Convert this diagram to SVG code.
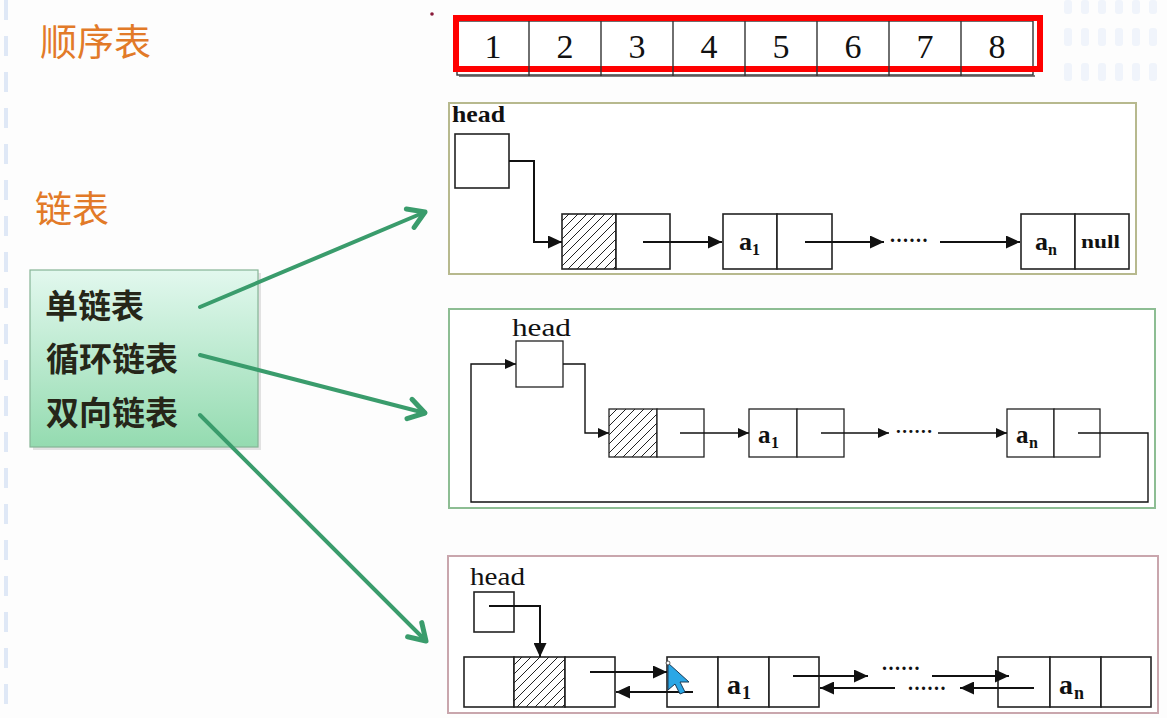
<svg xmlns="http://www.w3.org/2000/svg" width="1167" height="718" viewBox="0 0 1167 718">
<defs>
<style>
.ser{font-family:"Liberation Serif","Times New Roman",serif;fill:#111}
.b{font-weight:bold}
.cell{fill:#fff;stroke:#222;stroke-width:1.6}
.cell2{fill:#fff;stroke:#222;stroke-width:1.3}
.hat{fill:url(#hatch);stroke:#222;stroke-width:1.6}
.hat2{fill:url(#hatch);stroke:#222;stroke-width:1.3}
.ln{fill:none;stroke:#111;stroke-width:2}
.ln2{fill:none;stroke:#111;stroke-width:1.4}
.cjk{font-family:"Noto Sans CJK SC","Noto Sans",sans-serif}
.orange{fill:#e27a28;font-size:37px}
.dark{fill:#262619;font-size:33px;font-weight:bold}
.garrow{fill:none;stroke:#3a9c6c;stroke-width:4;stroke-linecap:round}
.dots{letter-spacing:1.5px}
</style>
<pattern id="hatch" patternUnits="userSpaceOnUse" width="9" height="9">
<rect width="9" height="9" fill="#fff"/>
<path d="M-1,10 L10,-1 M-3,3 L3,-3 M6,12 L12,6" stroke="#222" stroke-width="1"/>
</pattern>
<marker id="ah" markerUnits="userSpaceOnUse" markerWidth="15" markerHeight="13" refX="14" refY="6.5" orient="auto">
<path d="M0,0 L14,6.5 L0,13 z" fill="#111"/>
</marker>
<marker id="ah2" markerUnits="userSpaceOnUse" markerWidth="12" markerHeight="10" refX="11" refY="5" orient="auto">
<path d="M0,0 L11,5 L0,10 z" fill="#111"/>
</marker>
<marker id="gah" markerUnits="userSpaceOnUse" markerWidth="30" markerHeight="30" refX="22" refY="13" orient="auto">
<path d="M6,3 L22,13 L6,23" fill="none" stroke="#3a9c6c" stroke-width="5" stroke-linecap="round" stroke-linejoin="round"/>
</marker>
<linearGradient id="gbox" x1="0" y1="0" x2="0" y2="1">
<stop offset="0" stop-color="#e2f8ee"/>
<stop offset="1" stop-color="#94dbb0"/>
</linearGradient>
</defs>

<rect width="1167" height="718" fill="#fdfdfd"/>

<g id="decor">
<line x1="6" y1="0" x2="6" y2="718" stroke="#dfe8f6" stroke-width="4" stroke-dasharray="20,16"/>
<g fill="#f0f4fb">
<rect x="1064" y="0" width="8" height="14" rx="3"/><rect x="1081" y="0" width="8" height="14" rx="3"/><rect x="1098" y="0" width="8" height="14" rx="3"/><rect x="1115" y="0" width="8" height="14" rx="3"/><rect x="1132" y="0" width="8" height="14" rx="3"/><rect x="1149" y="0" width="8" height="14" rx="3"/>
<rect x="1064" y="28" width="8" height="18" rx="3"/><rect x="1081" y="28" width="8" height="18" rx="3"/><rect x="1098" y="28" width="8" height="18" rx="3"/><rect x="1115" y="28" width="8" height="18" rx="3"/><rect x="1132" y="28" width="8" height="18" rx="3"/><rect x="1149" y="28" width="8" height="18" rx="3"/>
<rect x="1064" y="63" width="8" height="18" rx="3"/><rect x="1081" y="63" width="8" height="18" rx="3"/><rect x="1098" y="63" width="8" height="18" rx="3"/><rect x="1115" y="63" width="8" height="18" rx="3"/><rect x="1132" y="63" width="8" height="18" rx="3"/><rect x="1149" y="63" width="8" height="18" rx="3"/>
</g>
<circle cx="432" cy="14" r="1.8" fill="#8a1a3a"/>
</g>

<g id="label-seq">
<text class="cjk orange" x="40" y="56">顺序表</text>
</g>
<g id="label-linked">
<text class="cjk orange" x="35" y="223">链表</text>
</g>

<g id="types-box">
<rect x="33" y="273" width="228" height="177" fill="#c8c8c8" opacity="0.5"/>
<rect x="30" y="270" width="228" height="177" fill="url(#gbox)" stroke="#86b596" stroke-width="1.2"/>
<text class="cjk dark" x="45" y="318" font-size="34">单链表</text>
<text class="cjk dark" x="46" y="371">循环链表</text>
<text class="cjk dark" x="46" y="425">双向链表</text>
</g>

<g id="array">
<rect x="457" y="21" width="576" height="54" fill="#fff" stroke="#333" stroke-width="1.4"/>
<line x1="459" y1="76" x2="1035" y2="76" stroke="#555" stroke-width="1.4"/>
<rect x="456" y="18" width="584" height="51" fill="none" stroke="#ff0000" stroke-width="6"/>
<g stroke="#333" stroke-width="1.4">
<line x1="529" y1="21" x2="529" y2="76"/><line x1="601" y1="21" x2="601" y2="76"/><line x1="673" y1="21" x2="673" y2="76"/><line x1="745" y1="21" x2="745" y2="76"/><line x1="817" y1="21" x2="817" y2="76"/><line x1="889" y1="21" x2="889" y2="76"/><line x1="961" y1="21" x2="961" y2="76"/>
</g>
<g class="ser" font-size="34" text-anchor="middle">
<text x="493" y="58">1</text><text x="565" y="58">2</text><text x="637" y="58">3</text><text x="709" y="58">4</text><text x="781" y="58">5</text><text x="853" y="58">6</text><text x="925" y="58">7</text><text x="997" y="58">8</text>
</g>
</g>

<g id="single-list">
<rect x="449" y="103" width="687" height="171" fill="#fff" stroke="#b7b98e" stroke-width="2"/>
<text class="ser b" x="452" y="122" font-size="24" textLength="53" lengthAdjust="spacingAndGlyphs">head</text>
<g id="s-head"><rect class="cell" x="455" y="134" width="54" height="54"/></g>
<g id="s-node0"><rect class="hat" x="562" y="214" width="54" height="55"/><rect class="cell" x="616" y="214" width="54" height="55"/></g>
<g id="s-a1"><rect class="cell" x="723" y="214" width="54" height="55"/><rect class="cell" x="777" y="214" width="55" height="55"/>
<text class="ser b" x="739" y="250" font-size="26">a</text><text class="ser b" x="752" y="255" font-size="16">1</text></g>
<text class="ser b dots" x="890" y="242" font-size="20">......</text>
<g id="s-an"><rect class="cell" x="1021" y="214" width="54" height="55"/><rect class="cell" x="1075" y="214" width="54" height="55"/>
<text class="ser b" x="1035" y="250" font-size="26">a</text><text class="ser b" x="1048" y="255" font-size="16">n</text>
<text class="ser b" x="1081" y="248" font-size="19" textLength="39" lengthAdjust="spacingAndGlyphs">null</text></g>
</g>

<g id="circular-list">
<rect x="449" y="309" width="706" height="199" fill="#fff" stroke="#8dbd93" stroke-width="2"/>
<text class="ser" x="512" y="336" font-size="25" textLength="59" lengthAdjust="spacingAndGlyphs">head</text>
<g id="c-head"><rect class="cell2" x="516" y="341" width="47" height="46"/></g>
<g id="c-node0"><rect class="hat2" x="609" y="409" width="48" height="48"/><rect class="cell2" x="657" y="409" width="47" height="48"/></g>
<g id="c-a1"><rect class="cell2" x="749" y="409" width="48" height="48"/><rect class="cell2" x="797" y="409" width="47" height="48"/>
<text class="ser b" x="758" y="443" font-size="25">a</text><text class="ser b" x="771" y="448" font-size="16">1</text></g>
<text class="ser b dots" x="896" y="433" font-size="19">......</text>
<g id="c-an"><rect class="cell2" x="1007" y="409" width="47" height="48"/><rect class="cell2" x="1054" y="409" width="46" height="48"/>
<text class="ser b" x="1016" y="443" font-size="25">a</text><text class="ser b" x="1029" y="448" font-size="16">n</text></g>
</g>

<g id="double-list">
<rect x="448" y="556" width="710" height="157" fill="#fff" stroke="#c9a6ad" stroke-width="2"/>
<text class="ser" x="470" y="585" font-size="25" textLength="55" lengthAdjust="spacingAndGlyphs">head</text>
<g id="d-head"><rect class="cell" x="474" y="592" width="40" height="40"/></g>
<g id="d-node0"><rect class="cell" x="464" y="657" width="50" height="50"/><rect class="hat" x="514" y="657" width="51" height="50"/><rect class="cell" x="565" y="657" width="50" height="50"/></g>
<g id="d-a1"><rect class="cell" x="667" y="657" width="51" height="50"/><rect class="cell" x="718" y="657" width="51" height="50"/><rect class="cell" x="769" y="657" width="50" height="50"/>
<text class="ser b" x="727" y="694" font-size="28">a</text><text class="ser b" x="742" y="699" font-size="18">1</text></g>
<text class="ser b dots" x="882" y="670" font-size="20">......</text>
<text class="ser b dots" x="908" y="690" font-size="20">......</text>
<g id="d-an"><rect class="cell" x="998" y="657" width="52" height="50"/><rect class="cell" x="1050" y="657" width="51" height="50"/><rect class="cell" x="1101" y="657" width="50" height="50"/>
<text class="ser b" x="1059" y="694" font-size="28">a</text><text class="ser b" x="1074" y="699" font-size="18">n</text></g>
</g>

<g id="connectors">
<path class="garrow" d="M200,307 L425,212" marker-end="url(#gah)"/>
<path class="garrow" d="M200,355 L425,413" marker-end="url(#gah)"/>
<path class="garrow" d="M200,415 L426,641" marker-end="url(#gah)"/>

<path class="ln" d="M509,161 H534 V242 H562" marker-end="url(#ah)"/>
<path class="ln" d="M643,242 H722" marker-end="url(#ah)"/>
<path class="ln" d="M805,242 H884" marker-end="url(#ah)"/>
<path class="ln" d="M940,242 H1020" marker-end="url(#ah)"/>

<path class="ln2" d="M563,364 H585 V433 H609" marker-end="url(#ah2)"/>
<path class="ln2" d="M680,433 H749" marker-end="url(#ah2)"/>
<path class="ln2" d="M821,433 H889" marker-end="url(#ah2)"/>
<path class="ln2" d="M938,433 H1007" marker-end="url(#ah2)"/>
<path class="ln2" d="M1078,433 H1148 V502 H471 V364 H516" marker-end="url(#ah2)"/>

<path class="ln" d="M489,606 H540 V657" marker-end="url(#ah)"/>
<path class="ln" d="M590,672 H667" marker-end="url(#ah)"/>
<path class="ln" d="M693,692 H616" marker-end="url(#ah)"/>
<path class="ln" d="M793,676 H868" marker-end="url(#ah)"/>
<path class="ln" d="M932,676 H1009" marker-end="url(#ah)"/>
<path class="ln" d="M895,688 H820" marker-end="url(#ah)"/>
<path class="ln" d="M1034,688 H960" marker-end="url(#ah)"/>
</g>

<g id="cursor">
<path d="M668,663 L668,690 L675,684 L680,694 L685,692 L680,682 L689,682 Z" fill="#2aa7e6" stroke="#1a3a55" stroke-width="1"/>
<circle cx="668" cy="663" r="2" fill="#fff" stroke="#333" stroke-width="0.8"/>
</g>
</svg>
